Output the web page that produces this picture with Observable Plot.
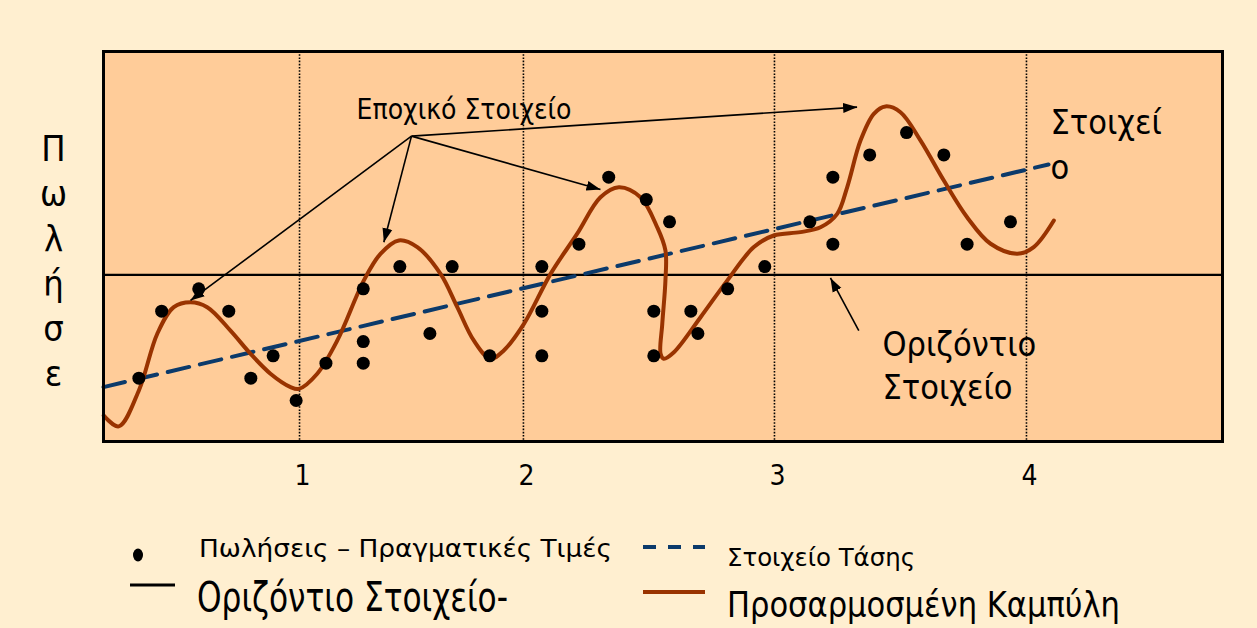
<!DOCTYPE html>
<html>
<head>
<meta charset="utf-8">
<script src="https://cdn.jsdelivr.net/npm/d3@7"></script>
<script src="https://cdn.jsdelivr.net/npm/@observablehq/plot@0.6"></script>
<style>
  html, body { margin: 0; padding: 0; background: #FFEFD0; }
  #chart { position: relative; width: 1257px; height: 628px; overflow: hidden; }
  #chart svg { display: block; }
</style>
</head>
<body>
<div id="chart"></div>
<script>
// ---------- data ----------
const periodMarks = [1, 1.924, 2.960, 4];
const periodLabels = ["1", "2", "3", "4"];

// actual sales (time, sales)
const salesT = [0.337, 0.431, 0.584, 0.708, 0.799, 0.891, 0.986, 1.109, 1.263, 1.263, 1.263, 1.414,
  1.538, 1.630, 1.785, 2.000, 2.000, 2.000, 2.153, 2.276, 2.431, 2.527, 2.462, 2.462,
  2.615, 2.644, 2.767, 2.920, 3.106, 3.201, 3.201, 3.353, 3.505, 3.659, 3.755, 3.934];
const salesY = [2, 5, 6, 5, 2, 3, 1, 2.67, 6, 3.64, 2.67, 7,
  4, 7, 3, 7, 5, 3, 8, 11, 10, 9, 5, 3,
  5, 4, 6, 7, 9, 8, 11, 12, 13, 12, 8, 9];

// fitted curve (traced)
const curveT = [0.192, 0.254, 0.337, 0.413, 0.481, 0.550, 0.619, 0.715, 0.798, 0.880, 0.963, 0.997,
  1.073, 1.156, 1.265, 1.334, 1.410, 1.486, 1.582, 1.651, 1.719, 1.788, 1.843, 1.926,
  2.036, 2.146, 2.242, 2.318, 2.407, 2.476, 2.510, 2.510, 2.497, 2.490, 2.503, 2.545,
  2.655, 2.765, 2.875, 2.957, 3.067, 3.150, 3.219, 3.260, 3.315, 3.370, 3.418, 3.480,
  3.563, 3.659, 3.755, 3.852, 3.962, 4.030, 4.113];
const curveY = [0.33, -0.16, 1.45, 3.99, 5.18, 5.40, 5.18, 4.13, 3.09, 2.20, 1.60, 1.52,
  2.20, 3.69, 6.37, 7.57, 8.17, 7.87, 6.67, 5.18, 3.69, 2.87, 3.24, 4.43,
  6.67, 8.47, 10.10, 10.55, 10.10, 8.76, 7.72, 6.37, 4.43, 3.09, 2.87, 3.16,
  4.73, 6.37, 7.87, 8.39, 8.54, 8.76, 9.36, 10.55, 12.64, 13.84, 14.17, 13.91,
  12.64, 10.85, 9.21, 8.02, 7.57, 7.87, 9.06];

// trend component (start / end)
const trendT = [0.191, 4.091];
const trendY = [1.60, 11.57];

// horizontal component level
const horizontalLevel = 6.63;

// annotations
const seasonalLabel = "Εποχικό Στοιχείο";
const seasonalOrigin = {t: 1.462, y: 12.84};
const seasonalTargetsT = [0.550, 1.348, 2.242, 3.301];
const seasonalTargetsY = [5.48, 8.09, 10.45, 14.14];
const trendLabel = "Στοιχεί\nο";
const horizLabel = "Οριζόντιο\nΣτοιχείο";
const horizArrow = {t1: 3.308, y1: 4.13, t2: 3.191, y2: 6.49};
const yLabel = "Π\nω\nλ\nή\nσ\nε";

const legendItems = [
  "Πωλήσεις – Πραγματικές Τιμές",
  "Στοιχείο Τάσης",
  "Οριζόντιο Στοιχείο-",
  "Προσαρμοσμένη Καμπύλη"
];

// ---------- build ----------
const FONT = "'DejaVu Sans Condensed', 'DejaVu Sans', sans-serif";
const BROWN = "#993300";
const NAVY = "#0B3A6B";

const sales = salesT.map((t, i) => ({t, y: salesY[i]}));
const curve = curveT.map((t, i) => ({t, y: curveY[i]}));
const trend = trendT.map((t, i) => ({t, y: trendY[i]}));
const arrows = seasonalTargetsT.map((t, i) => ({t1: seasonalOrigin.t, y1: seasonalOrigin.y, t2: t, y2: seasonalTargetsY[i]}));
arrows.push(horizArrow);
const labelOf = new Map(periodMarks.map((d, i) => [d, periodLabels[i]]));

function headMarker(color, context) {
  const doc = (context && context.document) || document;
  const ns = "http://www.w3.org/2000/svg";
  const m = doc.createElementNS(ns, "marker");
  m.setAttribute("viewBox", "-14 -6 14 12");
  m.setAttribute("markerWidth", "14");
  m.setAttribute("markerHeight", "12");
  m.setAttribute("markerUnits", "userSpaceOnUse");
  m.setAttribute("orient", "auto");
  m.setAttribute("refX", "0");
  m.setAttribute("refY", "0");
  m.setAttribute("fill", color || "black");
  m.setAttribute("stroke", "none");
  const p = doc.createElementNS(ns, "path");
  p.setAttribute("d", "M-14,-5L0,0L-14,5Z");
  m.appendChild(p);
  return m;
}

function build(useMarker) {
  const arrowMark = useMarker
    ? Plot.link(arrows, {x1: "t1", y1: "y1", x2: "t2", y2: "y2", stroke: "black", strokeWidth: 1.6, markerEnd: headMarker})
    : Plot.arrow(arrows, {x1: "t1", y1: "y1", x2: "t2", y2: "y2", stroke: "black", strokeWidth: 1.6, headLength: 12, headAngle: 50});
  return Plot.plot({
    width: 1257,
    height: 500,
    marginLeft: 103,
    marginRight: 35,
    marginTop: 51,
    marginBottom: 59,
    style: {background: "transparent", fontFamily: FONT, overflow: "visible"},
    x: {domain: [0.191, 4.809], axis: null},
    y: {domain: [-0.836, 16.63], axis: null},
    marks: [
      Plot.frame({fill: "#FFCC99", stroke: null}),
      Plot.ruleX(periodMarks, {stroke: "black", strokeWidth: 1.6, strokeDasharray: "1.6,1.6"}),
      Plot.ruleY([horizontalLevel], {stroke: "black", strokeWidth: 2.2}),
      Plot.line(trend, {x: "t", y: "y", stroke: NAVY, strokeWidth: 4, strokeDasharray: "22,11"}),
      Plot.line(curve, {x: "t", y: "y", stroke: BROWN, strokeWidth: 4, curve: "catmull-rom"}),
      Plot.dot(sales, {x: "t", y: "y", r: 6.5, fill: "black", stroke: null}),
      arrowMark,
      Plot.text([seasonalLabel], {x: 1.679, y: 13.99, text: d => d, fontSize: 28, textAnchor: "middle", lineAnchor: "middle", fill: "black"}),
      Plot.text([trendLabel], {x: 4.099, y: 14.37, text: d => d, fontSize: 34, textAnchor: "start", lineAnchor: "top", lineHeight: 1.32, fill: "black"}),
      Plot.text([horizLabel], {x: 3.406, y: 4.39, text: d => d, fontSize: 34, textAnchor: "start", lineAnchor: "top", lineHeight: 1.28, fill: "black"}),
      Plot.text([yLabel], {frameAnchor: "top-left", dx: -50, dy: 78, text: d => d, fontSize: 36, textAnchor: "middle", lineAnchor: "top", lineHeight: 1.25, fill: "black"}),
      Plot.axisX(periodMarks, {tickSize: 0, tickPadding: 24, fontSize: 28, dx: 3, tickFormat: d => labelOf.get(d), label: null}),
      Plot.frame({stroke: "black", strokeWidth: 3, fill: "none"})
    ]
  });
}

let svg;
try { svg = build(true); } catch (e) { svg = build(false); }
document.getElementById("chart").appendChild(svg);

// ---------- legend (below the plot) ----------
const leg = d3.select("#chart").append("svg")
  .attr("width", 1257).attr("height", 128)
  .style("display", "block")
  .style("font-family", FONT);
// dot
leg.append("ellipse").attr("cx", 138).attr("cy", 55).attr("rx", 5).attr("ry", 6.5).attr("fill", "black");
leg.append("text").attr("x", 199).attr("y", 57).attr("font-size", 25)
  .attr("textLength", 413).attr("lengthAdjust", "spacingAndGlyphs").text(legendItems[0]);
// dashed trend
leg.append("line").attr("x1", 643).attr("x2", 705).attr("y1", 47).attr("y2", 47)
  .attr("stroke", NAVY).attr("stroke-width", 4).attr("stroke-dasharray", "13,12");
leg.append("text").attr("x", 727).attr("y", 66).attr("font-size", 24)
  .attr("textLength", 188).attr("lengthAdjust", "spacingAndGlyphs").text(legendItems[1]);
// black line
leg.append("line").attr("x1", 130).attr("x2", 175).attr("y1", 85).attr("y2", 85)
  .attr("stroke", "black").attr("stroke-width", 3);
leg.append("text").attr("x", 197).attr("y", 111).attr("font-size", 41)
  .attr("textLength", 311).attr("lengthAdjust", "spacingAndGlyphs").text(legendItems[2]);
// brown line
leg.append("line").attr("x1", 643).attr("x2", 705).attr("y1", 92).attr("y2", 92)
  .attr("stroke", BROWN).attr("stroke-width", 4);
leg.append("text").attr("x", 727).attr("y", 117).attr("font-size", 35)
  .attr("textLength", 393).attr("lengthAdjust", "spacingAndGlyphs").text(legendItems[3]);
</script>
</body>
</html>
